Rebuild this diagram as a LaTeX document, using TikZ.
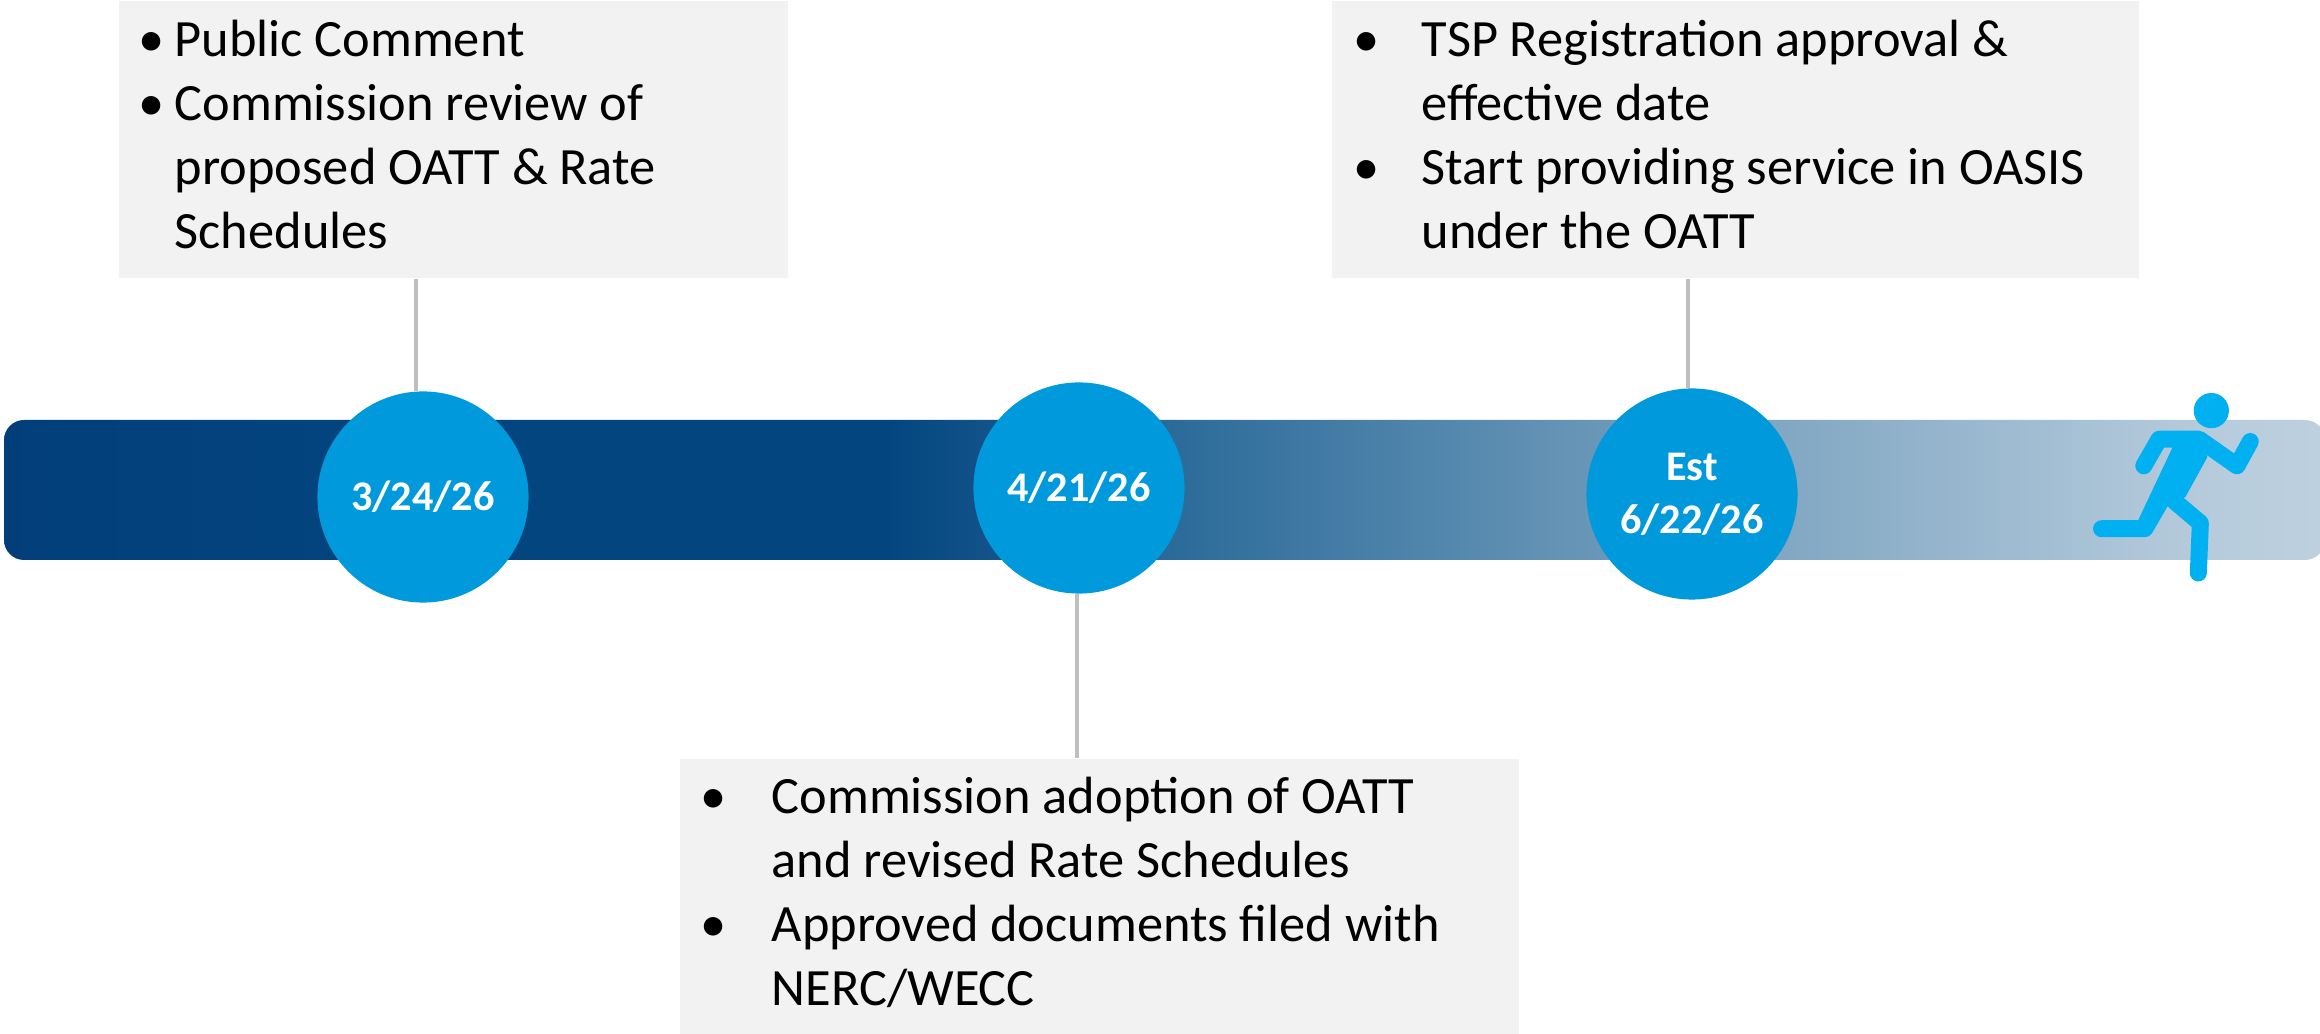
\documentclass[tikz,border=0pt]{standalone}
\usepackage{fontspec}
\setmainfont{Carlito}
\usepackage{tikz}
\definecolor{navy}{HTML}{002F6E}
\definecolor{navymid}{HTML}{03457F}
\definecolor{fadea}{HTML}{2A6A99}
\definecolor{fadeb}{HTML}{6E9ABA}
\definecolor{fadec}{HTML}{B4CADB}
\definecolor{faded}{HTML}{E6ECF3}
\definecolor{datecol}{HTML}{0099DC}
\definecolor{runcol}{HTML}{00B0F0}
\definecolor{notecol}{HTML}{F2F2F2}
\definecolor{linecol}{HTML}{BFBFBF}
\pgfdeclarehorizontalshading{barfade}{100bp}{
  color(0bp)=(navy);
  color(34.5bp)=(navymid);
  color(44bp)=(navymid);
  color(50bp)=(fadea);
  color(60bp)=(fadeb);
  color(72bp)=(fadec);
  color(88bp)=(faded);
  color(100bp)=(white)}
\newcommand{\notefont}{\fontsize{14.9pt}{18.2pt}\selectfont}
\tikzset{
  notebox/.style={fill=notecol, anchor=north west, inner ysep=0pt, inner xsep=0pt, align=left},
  datenode/.style={shape=circle, fill=datecol, minimum size=6.03cm/1*0.35, inner sep=0pt, text=white, align=center, font=\fontsize{12pt}{15pt}\selectfont\bfseries},
  tick/.style={draw=linecol, line width=0.04cm},
  runner/.style={draw=runcol, line cap=round, line join=round}
}
\begin{document}
\begin{tikzpicture}[x=0.01cm, y=-0.01cm]
\useasboundingbox (0,0) rectangle (2320,1034);
\shade[shading=barfade, rounded corners=0.2cm] (4,420) rectangle (2325,560);
\node [notebox, minimum width=6.69cm, text width=6.69cm, minimum height=2.77cm] (note1) at (118,0) {\notefont\hspace{0.2cm}\begin{tabular}{@{}p{0.36cm}@{}l@{}}
\textbullet & Public Comment\\
\textbullet & Commission review of\\
 & proposed OATT \& Rate\\
 & Schedules
\end{tabular}};
\node [notebox, minimum width=8.39cm, text width=8.39cm, minimum height=2.76cm] (note2) at (679,758) {\notefont\hspace{0.21cm}\begin{tabular}{@{}p{0.71cm}@{}l@{}}
\textbullet & Commission adoption of OATT\\
 & and revised Rate Schedules\\
\textbullet & Approved documents filed with\\
 & NERC/WECC
\end{tabular}};
\node [notebox, minimum width=8.07cm, text width=8.07cm, minimum height=2.77cm] (note3) at (1331,0) {\notefont\hspace{0.22cm}\begin{tabular}{@{}p{0.68cm}@{}l@{}}
\textbullet & TSP Registration approval \&\\
 & effective date\\
\textbullet & Start providing service in OASIS\\
 & under the OATT
\end{tabular}};
\node [datenode] (date1) at (423,497) {3/24/26};
\node [datenode] (date2) at (1079,488) {4/21/26};
\node [datenode] (date3) at (1692,494) {Est\\6/22/26};
\draw [tick] (note1.south -| date1.94) -- (date1.94);
\draw [tick] (note2.north -| date2.-91) -- (date2.-91);
\draw [tick] (note3.south -| date3.92) -- (date3.92);
% runner
\begin{scope}[shift={(2000,360)}, x=0.00333cm, y=-0.00333cm]
\fill [runcol] (635,152) circle (0.176cm);
\fill [runcol] (530,238) -- (415,482) -- (440,520) -- (500,437) -- (557,412) -- (623,292) -- (600,215) -- cycle;
\draw [runner, line width=0.17cm] (432,318) -- (478,238) -- (598,238) -- (712,318) -- (752,245);
\draw [runner, line width=0.17cm] (305,507) -- (435,507) -- (500,395);
\draw [runner, line width=0.17cm] (525,425) -- (602,490) -- (596,640);
\end{scope}
\end{tikzpicture}
\end{document}
